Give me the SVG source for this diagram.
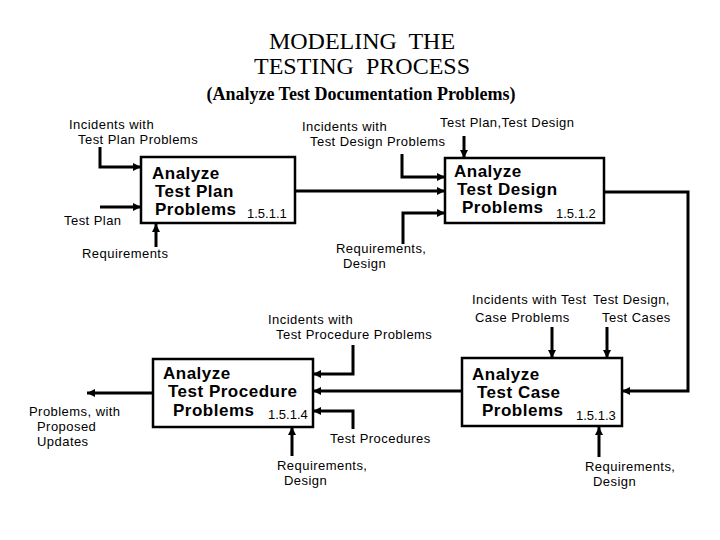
<svg xmlns="http://www.w3.org/2000/svg" width="720" height="540" viewBox="0 0 720 540">
<style>
.t{font-family:"Liberation Serif","Times New Roman",serif;fill:#000}
.lbl{font-family:"Liberation Sans",Arial,sans-serif;font-size:13px;letter-spacing:0.45px;fill:#000}
.bx{fill:#fff;stroke:#000;stroke-width:2.5}
.bt{font-family:"Liberation Sans",Arial,sans-serif;font-size:17px;letter-spacing:0.5px;font-weight:bold;fill:#000}
.num{font-family:"Liberation Sans",Arial,sans-serif;font-size:13px;fill:#000}
.c{fill:none;stroke:#000;stroke-width:3;marker-end:url(#ah)}
</style>
<defs>
<marker id="ah" markerUnits="userSpaceOnUse" markerWidth="9" markerHeight="9" refX="8" refY="4.5" orient="auto">
<path d="M0,0.5 L8,4.5 L0,8.5 z" fill="#000"/>
</marker>
</defs>
<rect width="720" height="540" fill="#fff"/>
<g id="title">
<text class="t" x="362" y="49" font-size="24" text-anchor="middle" xml:space="preserve">MODELING  THE</text>
<text class="t" x="362" y="74" font-size="24" text-anchor="middle" xml:space="preserve">TESTING  PROCESS</text>
<text class="t" x="361" y="100" font-size="18" font-weight="bold" text-anchor="middle">(Analyze Test Documentation Problems)</text>
</g>
<g id="connectors">
<path class="c" d="M100,147 V167 H141"/>
<path class="c" d="M100,207 H141"/>
<path class="c" d="M156,247 V224"/>
<path class="c" d="M296,191 H445"/>
<path class="c" d="M402,154 V177 H445"/>
<path class="c" d="M464,136 V158"/>
<path class="c" d="M403,244 V213 H445"/>
<path class="c" d="M605,192 H688 V391 H622"/>
<path class="c" d="M552,327 V358"/>
<path class="c" d="M607,327 V358"/>
<path class="c" d="M599,457 V427"/>
<path class="c" d="M462,391 H313"/>
<path class="c" d="M353,345 V374 H313"/>
<path class="c" d="M353,429 V411 H313"/>
<path class="c" d="M292,456 V427"/>
<path class="c" d="M153,393 H87"/>
</g>
<g id="labels">
<text class="lbl" x="69" y="129">Incidents with</text>
<text class="lbl" x="78" y="144">Test Plan Problems</text>
<text class="lbl" x="64" y="225">Test Plan</text>
<text class="lbl" x="82" y="258">Requirements</text>
<text class="lbl" x="302" y="131">Incidents with</text>
<text class="lbl" x="310" y="146">Test Design Problems</text>
<text class="lbl" x="440" y="127">Test Plan,Test Design</text>
<text class="lbl" x="336" y="253">Requirements,</text>
<text class="lbl" x="343" y="268">Design</text>
<text class="lbl" x="268" y="324">Incidents with</text>
<text class="lbl" x="276" y="339">Test Procedure Problems</text>
<text class="lbl" x="330" y="443">Test Procedures</text>
<text class="lbl" x="277" y="470">Requirements,</text>
<text class="lbl" x="284" y="485">Design</text>
<text class="lbl" x="29" y="416">Problems, with</text>
<text class="lbl" x="37" y="431">Proposed</text>
<text class="lbl" x="37" y="446">Updates</text>
<text class="lbl" x="472" y="304">Incidents with Test</text>
<text class="lbl" x="475" y="322">Case Problems</text>
<text class="lbl" x="593" y="304">Test Design,</text>
<text class="lbl" x="602" y="322">Test Cases</text>
<text class="lbl" x="585" y="471">Requirements,</text>
<text class="lbl" x="593" y="486">Design</text>
</g>
<g id="box1">
<rect class="bx" x="141" y="157" width="154" height="66"/>
<text class="bt" x="152" y="179">Analyze</text>
<text class="bt" x="155" y="197">Test Plan</text>
<text class="bt" x="155" y="215">Problems</text>
<text class="num" x="247" y="218">1.5.1.1</text>
</g>
<g id="box2">
<rect class="bx" x="445" y="158" width="159" height="65"/>
<text class="bt" x="454" y="177">Analyze</text>
<text class="bt" x="457" y="195">Test Design</text>
<text class="bt" x="462" y="213">Problems</text>
<text class="num" x="556" y="218">1.5.1.2</text>
</g>
<g id="box3">
<rect class="bx" x="153" y="359" width="160" height="68"/>
<text class="bt" x="163" y="379">Analyze</text>
<text class="bt" x="168" y="397">Test Procedure</text>
<text class="bt" x="173" y="416">Problems</text>
<text class="num" x="268" y="419">1.5.1.4</text>
</g>
<g id="box4">
<rect class="bx" x="462" y="358" width="160" height="68"/>
<text class="bt" x="472" y="380">Analyze</text>
<text class="bt" x="477" y="398">Test Case</text>
<text class="bt" x="482" y="416">Problems</text>
<text class="num" x="576" y="420">1.5.1.3</text>
</g>
</svg>
